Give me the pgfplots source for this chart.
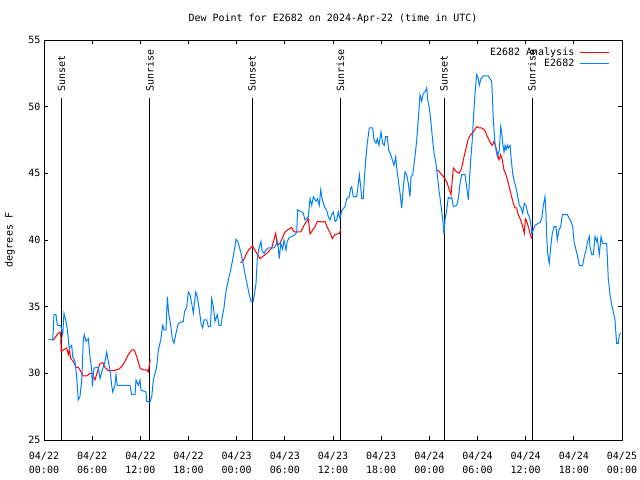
\documentclass[border=0pt]{standalone}
\usepackage{fontspec}
\newfontfamily\gpfont{DejaVu Sans Mono}
\usepackage{pgfplots}
\pgfplotsset{compat=1.18}
\definecolor{gpblue}{RGB}{0,128,255}
\definecolor{gpred}{RGB}{255,0,0}
\begin{document}
\begin{tikzpicture}[font=\gpfont\fontsize{10bp}{12bp}\selectfont]
\path[use as bounding box] (0,0) rectangle (640bp,480bp);
\node[anchor=center] at (333bp,461bp) {Dew Point for E2682 on 2024-Apr-22 (time in UTC)};
\begin{axis}[
  at={(44bp,40bp)}, anchor=south west,
  scale only axis, width=578bp, height=400bp,
  xmin=0, xmax=72, ymin=25, ymax=55,
  xtick={0,6,...,72},
  xticklabels={{04/22\\00:00},{04/22\\06:00},{04/22\\12:00},{04/22\\18:00},{04/23\\00:00},{04/23\\06:00},{04/23\\12:00},{04/23\\18:00},{04/24\\00:00},{04/24\\06:00},{04/24\\12:00},{04/24\\18:00},{04/25\\00:00}},
  ytick={25,30,...,55},
  tick align=inside,
  major tick length=4bp,
  tick style={black, line width=0.8bp},
  axis line style={black, line width=0.8bp},
  /pgf/number format/assume math mode=true,
  x tick label style={align=center, font=\gpfont\fontsize{10bp}{14bp}\selectfont, yshift=-9bp},
  y tick label style={font=\gpfont\fontsize{10bp}{12bp}\selectfont},
  ylabel={degrees F},
  ylabel style={at={(axis description cs:-0.0588,0.5)}, anchor=center, font=\gpfont\fontsize{10bp}{12bp}\selectfont},
  unbounded coords=jump,
  legend plot pos=right,
  legend cell align=right,
  legend style={at={(axis description cs:1,1)}, anchor=north east, xshift=-12bp, yshift=-6bp,
    draw=none, fill=none, inner sep=0pt, row sep=-1bp, column sep=4bp,
    font=\gpfont\fontsize{10bp}{12bp}\selectfont,
    nodes={inner sep=1.5bp}},
]
% event lines
\addplot[black, line width=1bp, forget plot] coordinates {(2.18,25) (2.18,50.65)};
\addplot[black, line width=1bp, forget plot] coordinates {(13.20,25) (13.20,50.65)};
\addplot[black, line width=1bp, forget plot] coordinates {(25.91,25) (25.91,50.65)};
\addplot[black, line width=1bp, forget plot] coordinates {(36.93,25) (36.93,50.65)};
\addplot[black, line width=1bp, forget plot] coordinates {(49.83,25) (49.83,50.65)};
\addplot[black, line width=1bp, forget plot] coordinates {(60.79,25) (60.79,50.65)};
% analysis
\addplot[gpred, line width=1bp, legend image code/.code={\draw[gpred, line width=1bp] (0bp,0bp) -- (29bp,0bp);}] coordinates {
(1.16,32.5) (1.78,33.0) (1.99,33.1) (2.08,32.9) (2.15,31.6) (2.40,31.75) (2.83,31.9) (3.03,31.4) (3.15,31.75) (3.33,31.1)
(3.65,30.9) (3.99,30.45) (4.27,30.45) (4.48,30.25) (4.90,29.8) (5.32,29.8) (5.73,30.0) (6.07,30.0) (6.35,29.5) (6.64,30.1)
(6.98,30.75) (7.31,30.8) (7.60,30.45) (8.01,30.2) (8.63,30.2) (9.26,30.3) (9.68,30.5) (10.09,30.9) (10.50,31.4) (10.92,31.75)
(11.25,31.75) (11.55,31.25) (11.96,30.4) (12.37,30.25) (12.79,30.25) (12.99,30.1) (13.12,30.6) (13.24,31.05)
(18,nan)
(24.48,38.3) (24.82,38.45) (25.16,38.9) (25.53,39.3) (25.98,39.55) (26.41,39.1) (26.91,38.6) (27.32,38.8) (27.74,39.0) (27.94,39.1)
(28.36,39.4) (28.86,40.5) (29.06,39.6) (29.40,39.75) (30.02,40.6) (30.43,40.8) (30.86,40.95) (31.14,40.6) (31.98,40.6) (32.39,41.1)
(32.92,41.6) (33.14,40.45) (33.76,41.0) (34.05,41.4) (34.72,41.35) (35.00,41.4) (35.25,41.0) (35.63,40.55) (35.91,40.1) (36.25,40.4)
(36.79,40.5) (36.96,40.8)
(42,nan)
(48.83,45.25) (49.12,45.2) (49.54,44.9) (49.95,44.6) (50.24,44.25) (50.49,43.75) (50.70,43.4) (50.99,45.4) (51.41,45.1) (51.70,45.0)
(52.03,45.4) (52.23,46.0) (52.57,46.9) (52.86,47.6) (53.15,47.9) (53.48,48.1) (53.90,48.5) (54.19,48.4) (54.52,48.4) (54.85,48.25)
(55.06,48.0) (55.35,47.6) (55.64,47.25) (55.85,47.1) (56.06,47.4) (56.27,47.0) (56.47,46.5) (56.68,46.0) (56.89,46.4) (57.09,46.0)
(57.30,45.25) (57.55,44.9) (57.84,44.25) (58.14,43.5) (58.46,42.75) (58.67,42.4) (58.88,42.4) (59.08,41.9) (59.38,41.5) (59.63,41.0)
(59.83,40.5) (59.96,41.6) (60.04,41.55) (60.33,41.0) (60.54,40.5) (60.75,40.1)
};
\addlegendentry{E2682 Analysis}
% observations
\addplot[gpblue, line width=1bp, legend image code/.code={\draw[gpblue, line width=1bp] (0bp,0bp) -- (29bp,0bp);}] coordinates {
(0.54,32.55) (1.08,32.5) (1.25,34.4) (1.49,34.4) (1.66,33.6) (2.08,33.6) (2.33,32.9) (2.49,34.5) (2.74,33.9) (2.90,33.3)
(3.15,31.9) (3.45,32.1) (3.58,31.25) (3.86,30.9) (4.07,29.75) (4.27,28.0) (4.48,28.25) (4.70,29.5) (4.90,32.5) (5.02,32.9)
(5.23,32.4) (5.52,32.6) (5.73,31.25) (5.94,30.25) (6.02,29.0) (6.23,30.4) (6.76,30.45) (6.98,29.6) (7.19,30.1) (7.60,30.9)
(7.81,31.6) (8.01,30.9) (8.22,30.25) (8.43,29.1) (8.56,28.6) (8.84,29.1) (8.97,29.9) (9.13,29.1) (10.71,29.1) (10.92,28.4)
(11.34,28.4) (11.46,29.5) (11.75,29.1) (11.96,29.5) (12.08,28.75) (12.71,28.6) (12.79,27.9) (13.20,27.85) (13.42,28.25) (13.62,29.5)
(13.83,30.0) (14.04,30.5) (14.24,31.75) (14.54,32.5) (14.79,33.6) (14.95,33.25) (15.20,33.25) (15.36,35.75) (15.53,34.5) (15.78,33.6)
(15.98,32.6) (16.19,32.25) (16.44,33.0) (16.73,33.75) (17.35,33.9) (17.50,34.6) (17.78,35.0) (17.98,36.1) (18.19,35.9) (18.40,35.25)
(18.60,34.5) (18.90,36.1) (19.10,35.75) (19.35,34.75) (19.56,33.75) (19.77,33.4) (19.93,34.0) (20.27,34.0) (20.47,33.5) (20.74,33.5)
(20.89,35.6) (21.09,35.0) (21.30,33.9) (21.59,34.4) (21.80,33.6) (22.05,33.6) (22.21,34.25) (22.42,34.9) (22.63,36.0) (22.83,36.6)
(23.05,37.25) (23.26,37.75) (23.46,38.4) (23.67,39.1) (23.92,40.05) (24.13,39.9) (24.33,39.5) (24.54,39.0) (24.75,38.4) (24.95,37.75)
(25.16,37.1) (25.37,36.5) (25.57,35.9) (25.79,35.4) (26.07,35.4) (26.20,35.9) (26.41,36.75) (26.57,38.6) (26.78,39.4) (27.03,39.9)
(27.16,39.2) (27.41,39.0) (27.65,39.25) (27.94,39.4) (28.65,39.4) (28.99,39.75) (29.11,39.9) (29.31,38.6) (29.49,39.75) (29.73,39.3)
(29.90,40.0) (30.15,39.25) (30.31,39.9) (30.56,40.2) (30.86,40.25) (31.27,40.4) (31.48,40.6) (31.60,42.25) (32.10,42.1) (32.30,42.0)
(32.51,41.5) (32.92,41.75) (33.14,43.1) (33.35,42.6) (33.55,43.25) (33.88,42.9) (34.09,43.1) (34.29,42.6) (34.47,43.75) (34.67,43.0)
(35.00,42.4) (35.21,42.25) (35.41,41.75) (35.63,41.5) (35.84,41.9) (36.04,42.1) (36.25,41.4) (36.46,41.5) (36.66,42.1) (36.87,41.6)
(37.08,42.2) (37.49,42.5) (37.71,43.1) (38.03,43.25) (38.20,43.9) (38.33,44.0) (38.53,43.25) (38.95,43.25) (39.11,44.0) (39.28,44.9)
(39.45,44.0) (39.58,43.1) (39.77,43.1) (39.90,44.5) (40.07,46.0) (40.27,47.25) (40.52,48.4) (40.95,48.4) (41.11,47.5) (41.36,47.25)
(41.52,47.6) (41.73,47.1) (41.98,48.1) (42.19,47.25) (42.39,47.1) (42.56,47.75) (42.76,47.75) (42.94,46.75) (43.19,46.4) (43.39,46.0)
(43.60,45.6) (43.81,46.25) (43.94,45.4) (44.13,44.5) (44.35,43.5) (44.56,42.4) (44.76,44.0) (44.97,45.1) (45.18,44.9) (45.38,44.25)
(45.59,43.25) (45.72,44.75) (45.93,44.9) (46.21,46.25) (46.43,47.5) (46.63,49.1) (46.84,50.9) (47.05,50.4) (47.25,51.0) (47.46,51.1)
(47.67,51.4) (47.80,50.5) (48.00,49.9) (48.17,49.0) (48.37,47.75) (48.58,46.5) (48.83,45.75) (48.99,44.9) (49.20,43.75) (49.42,42.75)
(49.67,41.5) (49.83,40.4) (49.95,41.5) (50.16,42.25) (50.36,43.2) (50.58,43.1) (50.79,43.2) (50.99,42.5) (51.41,42.6) (51.61,43.1)
(51.82,44.2) (52.03,44.9) (52.44,44.9) (52.65,44.0) (52.86,43.0) (52.98,44.25) (53.15,46.0) (53.35,47.5) (53.48,49.0) (53.69,51.0)
(53.90,52.4) (54.10,52.1) (54.22,51.6) (54.44,52.1) (54.72,52.3) (55.35,52.3) (55.56,52.1) (55.77,51.9) (55.89,50.25) (55.97,49.0)
(56.18,47.25) (56.31,46.75) (56.47,46.25) (56.72,46.75) (56.89,48.5) (57.01,48.1) (57.14,47.25) (57.30,46.6) (57.43,47.1) (57.55,46.75)
(57.71,47.1) (57.84,46.9) (58.05,47.1) (58.17,46.25) (58.38,45.0) (58.58,44.4) (58.80,43.9) (58.96,43.4) (59.21,42.6) (59.42,42.4)
(59.63,42.0) (59.83,42.75) (60.04,42.6) (60.25,42.0) (60.45,41.75) (60.63,41.25) (60.75,40.5) (60.95,40.75) (61.16,41.1) (61.57,41.25)
(61.79,41.3) (62.00,41.6) (62.20,42.6) (62.41,43.25) (62.53,42.0) (62.62,40.25) (62.74,39.0) (62.94,38.25) (63.12,39.5) (63.32,40.5)
(63.53,41.0) (63.78,41.0) (63.94,40.0) (64.15,40.75) (64.36,41.0) (64.57,41.9) (65.19,41.9) (65.44,41.6) (65.65,41.4) (65.86,41.0)
(66.02,39.9) (66.27,39.25) (66.48,38.75) (66.68,38.1) (67.10,38.1) (67.30,38.75) (67.52,39.25) (67.73,39.9) (67.93,40.25) (68.01,39.5)
(68.23,38.9) (68.43,38.9) (68.64,40.25) (68.85,39.9) (68.92,40.1) (69.17,38.9) (69.39,40.25) (69.60,39.75) (70.09,39.75) (70.17,38.75)
(70.29,37.1) (70.51,35.9) (70.72,35.1) (70.92,34.6) (71.13,34.0) (71.25,32.9) (71.34,32.25) (71.54,32.25) (71.67,32.9) (71.84,33.0)
};
\addlegendentry{E2682}
% labels of event lines
\node[rotate=90, anchor=west, inner sep=0pt] at (axis cs:2.18,51.15) {Sunset};
\node[rotate=90, anchor=west, inner sep=0pt] at (axis cs:13.20,51.15) {Sunrise};
\node[rotate=90, anchor=west, inner sep=0pt] at (axis cs:25.91,51.15) {Sunset};
\node[rotate=90, anchor=west, inner sep=0pt] at (axis cs:36.93,51.15) {Sunrise};
\node[rotate=90, anchor=west, inner sep=0pt] at (axis cs:49.83,51.15) {Sunset};
\node[rotate=90, anchor=west, inner sep=0pt] at (axis cs:60.79,51.15) {Sunrise};
\end{axis}
\end{tikzpicture}
\end{document}
